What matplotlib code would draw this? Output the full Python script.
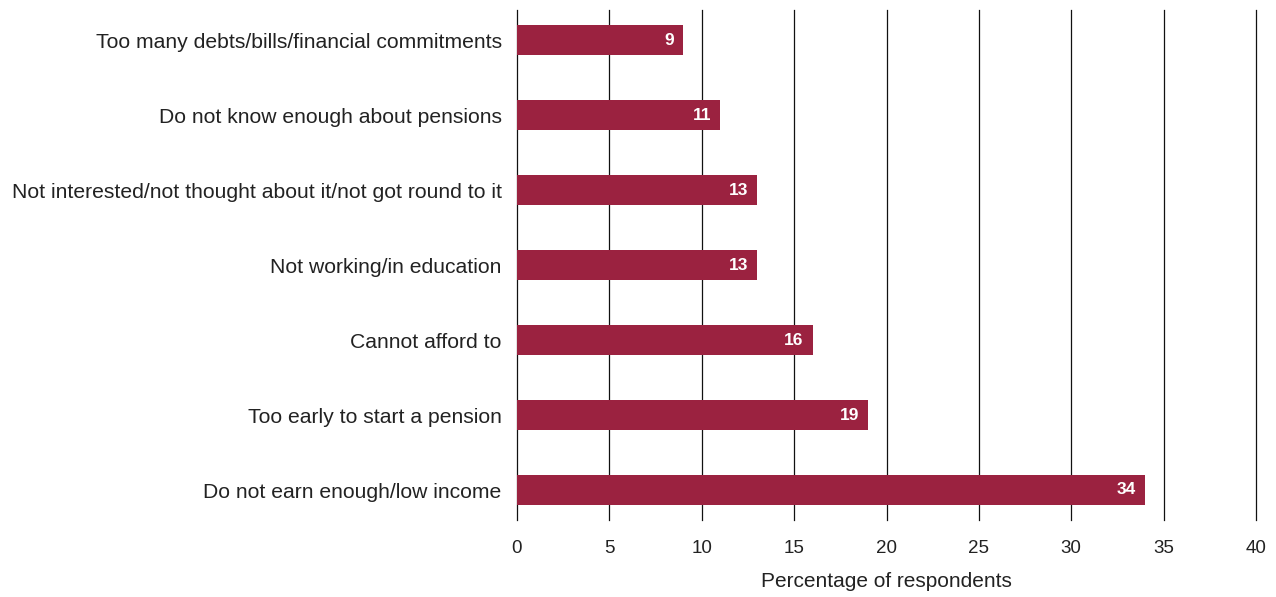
import matplotlib
matplotlib.use("Agg")
import matplotlib.pyplot as plt

categories = [
    "Too many debts/bills/financial commitments",
    "Do not know enough about pensions",
    "Not interested/not thought about it/not got round to it",
    "Not working/in education",
    "Cannot afford to",
    "Too early to start a pension",
    "Do not earn enough/low income",
]
values = [9, 11, 13, 13, 16, 19, 34]
x_ticks = [0, 5, 10, 15, 20, 25, 30, 35, 40]
x_label = "Percentage of respondents"

bar_color = "#9b2240"
text_color = "#222222"

plt.rcParams["font.family"] = ["Liberation Sans", "DejaVu Sans"]

fig = plt.figure(figsize=(12.76, 5.97), dpi=100)
ax = fig.add_axes([517 / 1276, 1 - 520 / 597, (1256 - 517) / 1276, 510 / 597])

ypos = list(range(len(categories)))
ax.barh(ypos, values, height=0.4, color=bar_color, zorder=3)

for y, v in zip(ypos, values):
    ax.text(v - 0.5, y, f"{v}", ha="right", va="center", color="white",
            fontsize=12.5, fontweight="bold", zorder=4)

ax.set_xlim(0, 40)
ax.set_ylim(len(categories) - 0.6, -0.4)
ax.set_xticks(x_ticks)
ax.set_xticklabels([str(t) for t in x_ticks], fontsize=13.5, color=text_color)
ax.set_yticks(ypos)
ax.set_yticklabels(categories, fontsize=15.2, color=text_color)
ax.tick_params(axis="both", length=0)
ax.tick_params(axis="x", pad=14.5)
ax.tick_params(axis="y", pad=11)

for t in x_ticks:
    ax.axvline(t, color="#111111", linewidth=0.9, zorder=1, clip_on=False)
for s in ax.spines.values():
    s.set_visible(False)

ax.set_xlabel(x_label, fontsize=15, color=text_color, labelpad=11)

fig.savefig("out.png", dpi=100)
